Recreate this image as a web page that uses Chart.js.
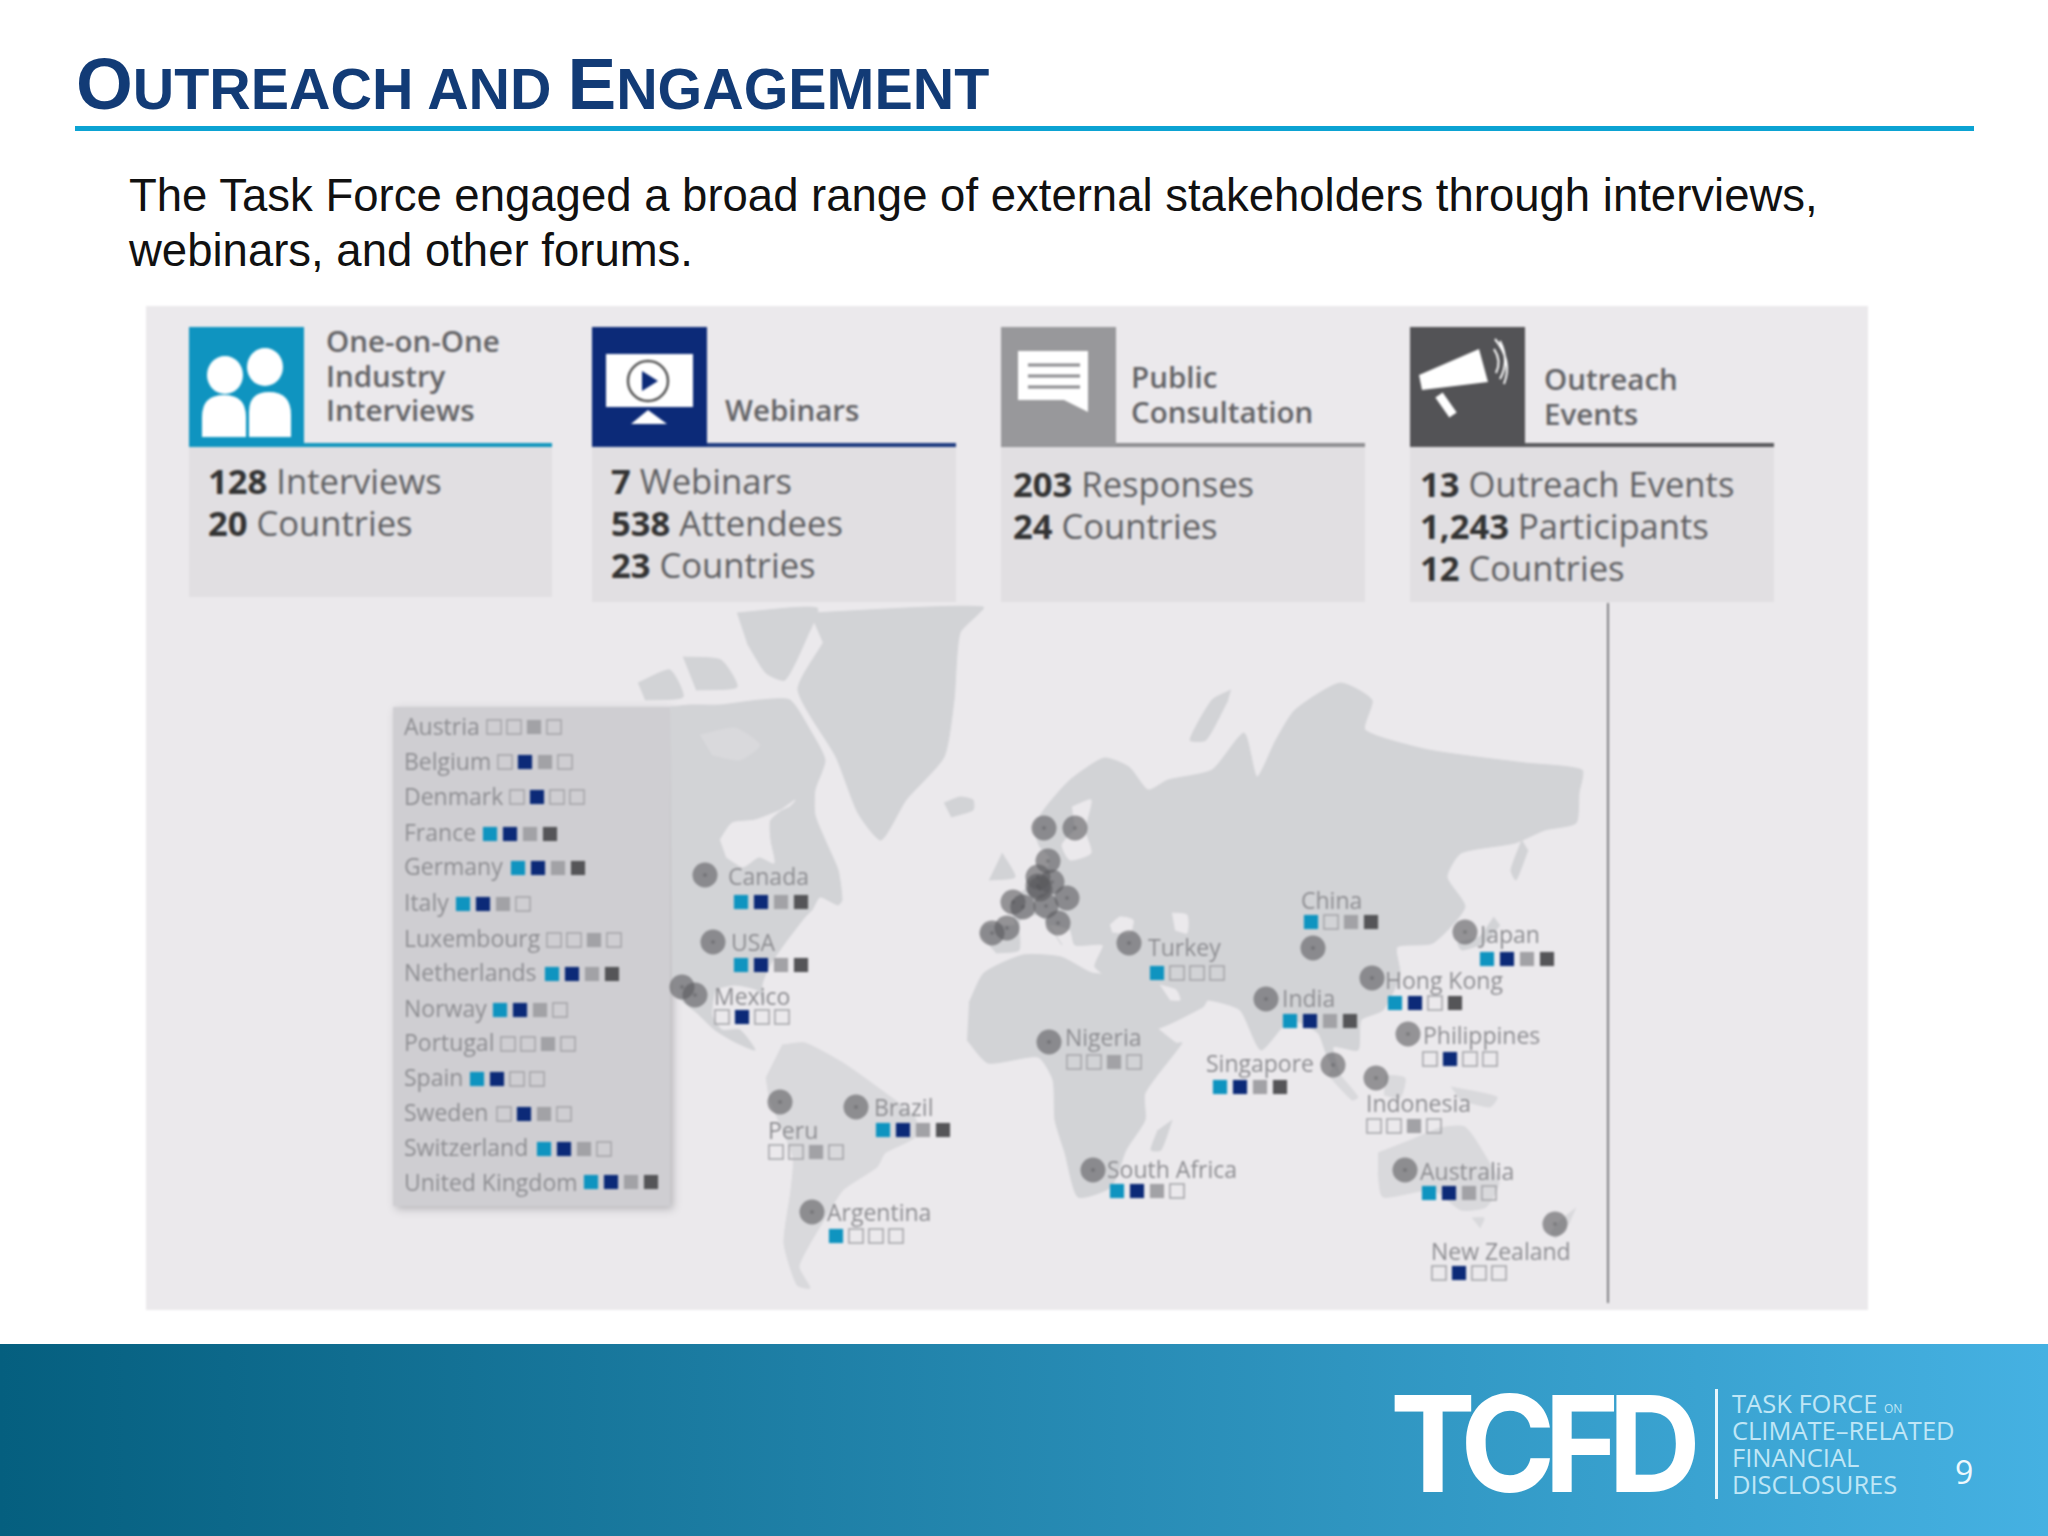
<!DOCTYPE html>
<html>
<head>
<meta charset="utf-8">
<title>Outreach and Engagement</title>
<script src="https://cdn.jsdelivr.net/npm/chart.js@4"></script>
<style>
  html, body { margin: 0; padding: 0; background: #fff; }
  #slide { position: absolute; left: 0; top: 0; width: 2048px; height: 1536px; overflow: hidden; font-family: "Liberation Sans", sans-serif; }
  #slide div, #slide svg, #slide canvas { position: absolute; }
  .title { left: 76px; top: 41px; white-space: nowrap; font-weight: bold; color: #123b76; font-size: 57.4px; line-height: 86px; }
  .title span { font-size: 73px; }
  .rule { left: 75px; top: 126px; width: 1899px; height: 5px; background: #0ca3d3; }
  .sub { left: 129px; top: 168px; font-size: 45.5px; line-height: 55px; color: #111; white-space: nowrap; }
  #panel { left: 146px; top: 306px; width: 1722px; height: 1004px; background: #ebe9ec; }
  #inner { left: 0; top: 0; width: 2048px; height: 1536px; filter: blur(0.9px); }
  .body { background: #e1dfe2; }
  .head, .stat, .lab { font-family: "Open Sans", sans-serif; white-space: nowrap; transform: translateY(-50%); }
  .head { font-weight: 600; font-size: 29.5px; color: #636366; }
  .stat { font-size: 34.6px; color: #5f5f62; }
  .stat b { color: #333; font-weight: 700; }
  .lab { font-size: 23px; color: #8d8d91; }
  #listbox { left: 393px; top: 707px; width: 277px; height: 499px; background: #cfced2; box-shadow: 3px 3px 8px rgba(120,120,125,.45); }
  #footer { left: 0; top: 1344px; width: 2048px; height: 192px; background: linear-gradient(90deg, #055f7f, #45b1e2); }
  .tcfd { left: 1390px; top: 1358px; font-family: Inter, sans-serif; font-weight: 700; font-size: 134px; line-height: 170px; letter-spacing: -12px; color: #fff; transform: scaleX(.96); transform-origin: left center; }
  .bar { left: 1715px; top: 1389px; width: 3px; height: 110px; background: #e8f6fc; }
  .tf { left: 1732px; font-family: "Open Sans", sans-serif; font-size: 25.5px; color: #bfe6f6; white-space: nowrap; transform: translateY(-50%); }
  .tf small { font-size: 12px; }
  .page { left: 1955px; top: 1450px; font-family: "Open Sans", sans-serif; font-size: 32px; color: #eef9fd; }
</style>
</head>
<body>
<div id="slide">
  <div class="title"><span>O</span>UTREACH AND <span>E</span>NGAGEMENT</div>
  <div class="rule"></div>
  <div class="sub">The Task Force engaged a broad range of external stakeholders through interviews,<br>webinars, and other forums.</div>

  <div id="inner">
    <div id="panel"></div>

    <div class="body" style="left:189px;top:446px;width:363px;height:151px"></div>
    <div style="left:189px;top:443px;width:363px;height:4px;background:#1296bd"></div>
    <div style="left:189px;top:327px;width:115px;height:119px;background:#0f94c0"></div>
    <svg style="left:189px;top:327px" width="115" height="119">
      <ellipse cx="36" cy="48" rx="18" ry="19" fill="#fff"/>
      <ellipse cx="76" cy="40" rx="18" ry="19" fill="#fff"/>
      <path d="M13 110 V90 Q13 68 35 68 Q57 68 57 90 V110 Z" fill="#fff"/>
      <path d="M60 110 V85 Q60 65 80 65 Q102 65 102 88 V110 Z" fill="#fff"/>
    </svg>
    <div class="head" style="left:326px;top:340px">One-on-One</div>
    <div class="head" style="left:326px;top:375px">Industry</div>
    <div class="head" style="left:326px;top:409px">Interviews</div>
    <div class="stat" style="left:208px;top:480px"><b>128</b> Interviews</div>
    <div class="stat" style="left:208px;top:522px"><b>20</b> Countries</div>

    <div class="body" style="left:592px;top:446px;width:364px;height:156px"></div>
    <div style="left:592px;top:443px;width:364px;height:4px;background:#1d3a80"></div>
    <div style="left:592px;top:327px;width:115px;height:119px;background:#0c2a78"></div>
    <svg style="left:592px;top:327px" width="115" height="119">
      <rect x="14" y="27" width="87" height="53" fill="#fff"/>
      <circle cx="56" cy="54" r="20" fill="none" stroke="#555" stroke-width="2.5"/>
      <path d="M50 44 L66 54 L50 64 Z" fill="#0c2a78"/>
      <path d="M56 83 L39 97 H75 Z" fill="#fff"/>
    </svg>
    <div class="head" style="left:725px;top:409px">Webinars</div>
    <div class="stat" style="left:611px;top:480px"><b>7</b> Webinars</div>
    <div class="stat" style="left:611px;top:522px"><b>538</b> Attendees</div>
    <div class="stat" style="left:611px;top:564px"><b>23</b> Countries</div>

    <div class="body" style="left:1001px;top:446px;width:364px;height:156px"></div>
    <div style="left:1001px;top:443px;width:364px;height:4px;background:#8f8f92"></div>
    <div style="left:1001px;top:327px;width:115px;height:119px;background:#98989b"></div>
    <svg style="left:1001px;top:327px" width="115" height="119">
      <path d="M17 24 H87 V85 L63 73 H17 Z" fill="#fff"/>
      <path d="M27 38 H79 M27 49 H79 M27 60 H79" stroke="#8c8c8f" stroke-width="3"/>
    </svg>
    <div class="head" style="left:1131px;top:376px">Public</div>
    <div class="head" style="left:1131px;top:411px">Consultation</div>
    <div class="stat" style="left:1013px;top:483px"><b>203</b> Responses</div>
    <div class="stat" style="left:1013px;top:525px"><b>24</b> Countries</div>

    <div class="body" style="left:1410px;top:446px;width:364px;height:156px"></div>
    <div style="left:1410px;top:443px;width:364px;height:4px;background:#5a5a5d"></div>
    <div style="left:1410px;top:327px;width:115px;height:119px;background:#535356"></div>
    <svg style="left:1410px;top:327px" width="115" height="119">
      <path d="M9 48 L69 22 L78 55 L12 63 Z" fill="#fff"/>
      <path d="M29 68 L43 88" stroke="#fff" stroke-width="9"/>
      <path d="M85 12 Q103 34 94 57 M90 14 Q100 34 90 52 M84 22 Q92 34 86 46" fill="none" stroke="#fff" stroke-width="2"/>
    </svg>
    <div class="head" style="left:1544px;top:378px">Outreach</div>
    <div class="head" style="left:1544px;top:413px">Events</div>
    <div class="stat" style="left:1420px;top:483px"><b>13</b> Outreach Events</div>
    <div class="stat" style="left:1420px;top:525px"><b>1,243</b> Participants</div>
    <div class="stat" style="left:1420px;top:567px"><b>12</b> Countries</div>

    <div id="listbox"></div>
    <canvas id="myChart" width="1722" height="1004" style="left:146px;top:306px"></canvas>
    <div id="labels" style="left:0;top:0"></div>
  </div>

  <div id="footer"></div>
  <div class="tcfd">TCFD</div>
  <div class="bar"></div>
  <div class="tf" style="top:1403px">TASK FORCE <small>ON</small></div>
  <div class="tf" style="top:1430px">CLIMATE–RELATED</div>
  <div class="tf" style="top:1457px">FINANCIAL</div>
  <div class="tf" style="top:1484px">DISCLOSURES</div>
  <div class="page">9</div>
</div>

<script>
// countries, the side list first, then the ones named on the map
const countries = ["Austria", "Belgium", "Denmark", "France", "Germany", "Italy", "Luxembourg", "Netherlands", "Norway", "Portugal", "Spain", "Sweden", "Switzerland", "United Kingdom",
  "Canada", "USA", "Mexico", "Peru", "Brazil", "Argentina", "Turkey", "Nigeria", "South Africa", "China", "Japan", "Hong Kong", "India", "Philippines", "Singapore", "Indonesia", "Australia", "New Zealand"]

// 1 = took part, 0 = did not
const interviews =   [0,0,0,1,1,1,0,1,1,0,1,0,1,1, 1,1,0,0,1,1,1,0,1,1,1,1,1,0,1,0,1,0]
const webinars =     [0,1,1,1,1,1,0,1,1,0,1,1,1,1, 1,1,1,0,1,0,0,0,1,0,1,1,1,1,1,0,1,1]
const consultation = [1,1,0,1,1,1,1,1,1,1,0,1,1,1, 1,1,0,1,1,0,0,1,1,1,1,0,1,0,1,1,1,0]
const outreach =     [0,0,0,1,1,0,0,1,0,0,0,0,0,1, 1,1,0,0,1,0,0,0,0,1,1,1,1,0,1,0,0,0]

// map units are reference pixels
const labelX = [404,404,404,404,404,404,404,404,404,404,404,404,404,404, 728,731,714,768,874,827,1148,1065,1107,1301,1480,1385,1282,1423,1206,1366,1420,1431]
const labelY = [726,761,796,832,866,902,938,972,1008,1042,1077,1112,1147,1182, 876,942,996,1130,1107,1212,947,1037,1169,900,934,980,998,1035,1063,1103,1171,1251]
const squareX = [494,505,517,490,518,463,554,552,500,508,477,504,544,591, 741,741,722,776,883,836,1157,1074,1117,1311,1487,1395,1290,1430,1220,1374,1429,1439]
const squareY = [727,762,797,834,868,904,940,974,1010,1044,1079,1114,1149,1182, 902,965,1017,1152,1130,1236,973,1062,1191,922,959,1003,1021,1059,1087,1126,1193,1273]
const dotX = [1067,1038,1048,1023,1052,1058,1040,1038,1044,992,1007,1075,1046,1013, 705,713,682,695,780,856,812,1129,1049,1093,1313,1465,1372,1266,1408,1333,1376,1405,1555]
const dotY = [898,886,861,907,882,923,889,877,828,933,928,828,906,902, 875,942,987,995,1102,1107,1212,943,1042,1170,948,932,978,999,1034,1065,1078,1170,1224]

// land outlines
const greenland = [[810,613],[983,607],[960,633],[954,700],[944,757],[906,800],[881,840],[858,813],[836,757],[798,690],[823,643]]
const iceland = [[944,803],[960,797],[973,800],[973,810],[951,817]]
const baffin = [[737,613],[817,608],[807,637],[785,680],[766,673],[747,643]]
const arctic1 = [[683,657],[721,660],[737,687],[696,690]]
const arctic2 = [[638,683],[670,670],[683,697],[645,700]]
const northAmerica = [[670,707],[690,705],[720,705],[760,700],[790,700],[810,730],[825,760],[815,790],[815,815],[825,840],[838,870],[842,900],[838,905],[820,897],[812,910],[805,917],[785,943],[770,965],[762,985],[765,1003],[757,990],[735,985],[716,990],[712,1015],[722,1030],[740,1030],[755,1050],[735,1042],[715,1030],[697,1013],[678,997],[672,977]]
const hudsonBay = [[720,840],[732,823],[755,820],[790,806],[795,800],[770,820],[770,840],[774,863],[759,857],[743,867],[726,857]]
const northPatch = [[700,735],[735,728],[760,745],[740,760],[712,755]]
const southAmerica = [[782,1045],[805,1043],[843,1063],[877,1087],[915,1117],[915,1137],[885,1153],[877,1167],[843,1190],[824,1220],[808,1247],[799,1267],[810,1288],[797,1285],[784,1243],[791,1190],[793,1157],[770,1100],[766,1077]]
const africa = [[969,1003],[984,973],[1023,955],[1061,957],[1092,973],[1126,977],[1149,1020],[1176,1043],[1182,1043],[1145,1093],[1145,1120],[1126,1150],[1111,1187],[1078,1197],[1065,1153],[1055,1120],[1053,1080],[1038,1057],[988,1063],[967,1040]]
const madagascar = [[1172,1120],[1161,1150],[1151,1150],[1158,1130]]
const eurasia = [[980,935],[985,925],[1015,925],[1010,905],[1030,885],[1045,875],[1050,858],[1040,847],[1034,827],[1046,807],[1070,780],[1104,758],[1129,767],[1148,790],[1168,780],[1212,770],[1244,733],[1257,777],[1276,740],[1295,710],[1340,683],[1372,700],[1365,730],[1429,750],[1525,763],[1582,770],[1579,793],[1576,823],[1545,830],[1515,843],[1461,853],[1447,877],[1465,907],[1433,943],[1397,947],[1400,975],[1383,1010],[1361,1020],[1358,1050],[1333,1047],[1344,1087],[1326,1053],[1318,1033],[1290,1020],[1261,1050],[1240,1010],[1208,1000],[1203,1007],[1149,1030],[1126,990],[1095,967],[1103,945],[1075,945],[1070,930],[1050,925],[1062,945],[1040,915],[1020,920],[1019,950],[996,953]]
const blackSea = [[1110,925],[1120,917],[1133,920],[1130,933],[1112,932]]
const caspian = [[1172,913],[1187,915],[1187,933],[1175,930]]
const baltic = [[1072,807],[1091,800],[1085,830],[1091,853],[1070,860],[1062,845],[1075,830]]
const gulf = [[1160,985],[1176,990],[1180,1000],[1170,1000]]
const britain = [[1002,853],[1015,877],[989,880]]
const novayaZemlya = [[1231,690],[1212,700],[1190,740],[1206,740],[1228,700]]
const sakhalin = [[1522,840],[1511,870],[1516,880],[1528,850]]
const honshu = [[1494,917],[1479,937],[1458,943],[1462,950],[1486,942],[1500,925]]
const sumatra = [[1333,1067],[1358,1097],[1352,1100],[1328,1075]]
const borneo = [[1385,1075],[1405,1078],[1400,1098],[1384,1095]]
const newGuinea = [[1451,1087],[1497,1097],[1490,1107],[1460,1100]]
const australia = [[1378,1153],[1411,1140],[1440,1128],[1465,1127],[1486,1157],[1499,1183],[1486,1207],[1461,1210],[1433,1190],[1383,1197],[1378,1173]]
const tasmania = [[1472,1218],[1484,1218],[1480,1228]]
const newZealand = [[1576,1208],[1561,1220],[1551,1233],[1556,1238],[1570,1222]]
const divider = [[1608,603],[1608,1303]]

const land = [greenland, iceland, baffin, arctic1, arctic2, northAmerica, africa, madagascar, eurasia, britain, novayaZemlya, sakhalin, honshu]
const paleLand = [southAmerica, sumatra, borneo, newGuinea, australia, tasmania, newZealand, northPatch]
const water = [hudsonBay, blackSea, caspian, baltic, gulf]

const LAND_COLOR = "#d2d3d6"
const PALE_LAND_COLOR = "#d9d9dc"
const WATER_COLOR = "#ebe9ec"
const SQUARE_GAP = 20

const toPoints = (outline) => outline.map(p => ({ x: p[0], y: p[1] }))

function shapeDataset(outline, color, order) {
  return {
    type: "line",
    data: toPoints(outline),
    showLine: true,
    fill: "shape",
    tension: 0.2,
    backgroundColor: color,
    borderColor: color,
    borderWidth: 1,
    pointRadius: 0,
    order: order,
  }
}

function squareDataset(values, slot, color) {
  return {
    data: values.map((v, i) => ({ x: squareX[i] + slot * SQUARE_GAP, y: squareY[i] })),
    pointStyle: "rect",
    pointRadius: 10,
    pointBackgroundColor: values.map(v => v ? color : "rgba(0,0,0,0)"),
    pointBorderColor: values.map(v => v ? color : "#a4a4a8"),
    pointBorderWidth: values.map(v => v ? 0 : 1.5),
    order: 1,
  }
}

const datasets = []
land.forEach(outline => datasets.push(shapeDataset(outline, LAND_COLOR, 20)))
paleLand.forEach(outline => datasets.push(shapeDataset(outline, PALE_LAND_COLOR, 18)))
water.forEach(outline => datasets.push(shapeDataset(outline, WATER_COLOR, 15)))

datasets.push({
  type: "line",
  data: toPoints(divider),
  showLine: true,
  borderColor: "#5c5c60",
  borderWidth: 1.5,
  pointRadius: 0,
  order: 10,
})

const dots = dotX.map((x, i) => ({ x: x, y: dotY[i] }))
datasets.push({
  data: dots,
  pointRadius: 12.5,
  pointBackgroundColor: "rgba(90,90,94,0.6)",
  pointBorderWidth: 0,
  order: 5,
})
datasets.push({
  data: dots,
  pointRadius: 2,
  pointBackgroundColor: "rgba(70,70,74,0.3)",
  pointBorderWidth: 0,
  order: 4,
})

datasets.push(squareDataset(interviews, 0, "#0f94c0"))
datasets.push(squareDataset(webinars, 1, "#0c2a78"))
datasets.push(squareDataset(consultation, 2, "#a2a2a6"))
datasets.push(squareDataset(outreach, 3, "#555558"))

const chart = new Chart(document.getElementById("myChart"), {
  type: "scatter",
  data: { datasets },
  options: {
    responsive: false,
    animation: false,
    devicePixelRatio: 1,
    layout: { padding: 0, autoPadding: false },
    plugins: {
      legend: { display: false },
      tooltip: { enabled: false },
    },
    scales: {
      x: { type: "linear", display: false, min: 146, max: 1868 },
      y: { type: "linear", display: false, reverse: true, min: 306, max: 1310 },
    },
  },
})

// country names stay real text, placed through the chart scales
const labelBox = document.getElementById("labels")
countries.forEach((name, i) => {
  const el = document.createElement("div")
  el.className = "lab"
  el.textContent = name
  el.style.left = (146 + chart.scales.x.getPixelForValue(labelX[i])) + "px"
  el.style.top = (306 + chart.scales.y.getPixelForValue(labelY[i])) + "px"
  labelBox.appendChild(el)
})
</script>
</body>
</html>
